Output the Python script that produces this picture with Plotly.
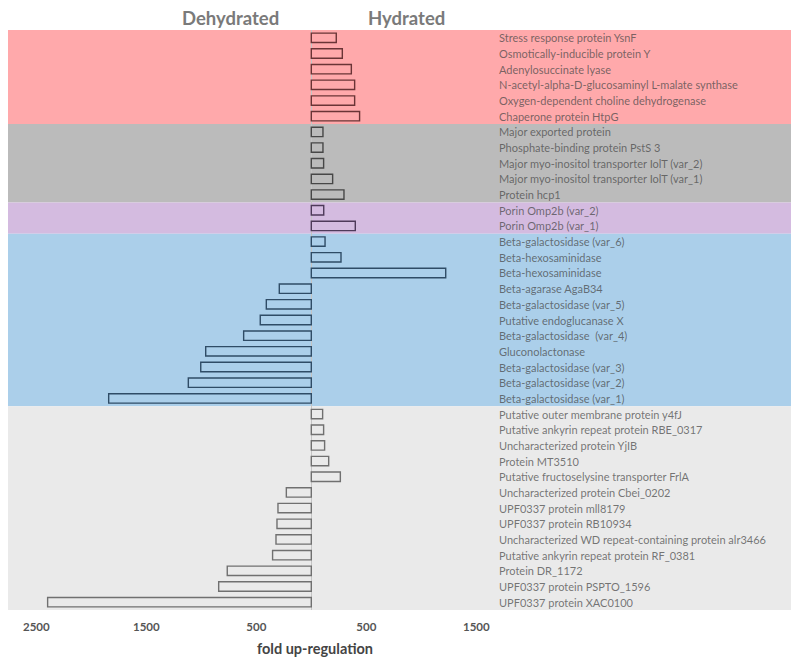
import plotly.graph_objects as go

proteins = [
    "Stress response protein YsnF",
    "Osmotically-inducible protein Y",
    "Adenylosuccinate lyase",
    "N-acetyl-alpha-D-glucosaminyl L-malate synthase",
    "Oxygen-dependent choline dehydrogenase",
    "Chaperone protein HtpG",
    "Major exported protein",
    "Phosphate-binding protein PstS 3",
    "Major myo-inositol transporter IolT (var_2)",
    "Major myo-inositol transporter IolT (var_1)",
    "Protein hcp1",
    "Porin Omp2b (var_2)",
    "Porin Omp2b (var_1)",
    "Beta-galactosidase (var_6)",
    "Beta-hexosaminidase",
    "Beta-hexosaminidase",
    "Beta-agarase AgaB34",
    "Beta-galactosidase (var_5)",
    "Putative endoglucanase X",
    "Beta-galactosidase  (var_4)",
    "Gluconolactonase",
    "Beta-galactosidase (var_3)",
    "Beta-galactosidase (var_2)",
    "Beta-galactosidase (var_1)",
    "Putative outer membrane protein y4fJ",
    "Putative ankyrin repeat protein RBE_0317",
    "Uncharacterized protein YjIB",
    "Protein MT3510",
    "Putative fructoselysine transporter FrlA",
    "Uncharacterized protein Cbei_0202",
    "UPF0337 protein mll8179",
    "UPF0337 protein RB10934",
    "Uncharacterized WD repeat-containing protein alr3466",
    "Putative ankyrin repeat protein RF_0381",
    "Protein DR_1172",
    "UPF0337 protein PSPTO_1596",
    "UPF0337 protein XAC0100",
]

fold_change = [
    227, 282, 364, 394, 394, 439,
    106, 106, 112, 194, 297,
    113, 400,
    125, 270, 1222, -291, -409, -464, -615, -960, -1005, -1118, -1842,
    103, 112, 121, 158, 264, -227, -303, -312, -321, -352, -764, -842, -2397,
]

groups = (["red"] * 6 + ["gray"] * 5 + ["purple"] * 2 + ["blue"] * 11 + ["light"] * 13)

group_order = ["red", "gray", "purple", "blue", "light"]
band_colors = {
    "red": "#FFA9AB",
    "gray": "#BBBBBB",
    "purple": "#D4BBE0",
    "blue": "#ABCFEA",
    "light": "#EAEAEA",
}
line_colors = {
    "red": "#6A3436",
    "gray": "#474747",
    "purple": "#4E3A5A",
    "blue": "#2F4C66",
    "light": "#707070",
}

tick_vals = [-2500, -1500, -500, 500, 1500]
tick_text = ["2500", "1500", "500", "500", "1500"]

FONT = "Lato, 'DejaVu Sans', sans-serif"

# the page shows the figure with an 8px body offset
OFF = 8
L, R, T, B = 0, 17, 22, 62
FIG_W, FIG_H = 800, 664
PLOT_W = FIG_W - L - R
PX_PER_UNIT = 0.11
ZERO_PX = 311.3

def paper_x(px):
    return (px - OFF - L) / PLOT_W

fig = go.Figure()
rows = list(range(len(proteins)))

for g in group_order:
    idx = [i for i in rows if groups[i] == g]
    fig.add_shape(type="rect", xref="paper", yref="y", x0=0, x1=1,
                  y0=min(idx) - 0.5, y1=max(idx) + 0.5,
                  fillcolor=band_colors[g], line_width=0, layer="below")

for g in group_order:
    idx = [i for i in rows if groups[i] == g]
    fig.add_trace(go.Bar(
        x=[fold_change[i] for i in idx],
        y=idx,
        orientation="h",
        width=0.6,
        marker=dict(color="rgba(0,0,0,0)",
                    line=dict(color=line_colors[g], width=1.4)),
        showlegend=False,
        hoverinfo="skip",
    ))

for i in rows:
    fig.add_annotation(x=paper_x(497), xref="paper", y=i, yref="y",
                       text=proteins[i], showarrow=False, xanchor="left",
                       yanchor="middle",
                       font=dict(family=FONT, size=11, color="rgba(70,70,70,0.72)"))

fig.add_annotation(text="<b>Dehydrated</b>", x=paper_x(230), xref="paper", xanchor="center",
                   y=1, yref="paper", yanchor="bottom", yshift=0, borderpad=0,
                   showarrow=False,
                   font=dict(family=FONT, size=18.5, color="#7A7A7A"))
fig.add_annotation(text="<b>Hydrated</b>", x=paper_x(406), xref="paper", xanchor="center",
                   y=1, yref="paper", yanchor="bottom", yshift=0, borderpad=0,
                   showarrow=False,
                   font=dict(family=FONT, size=18.5, color="#7A7A7A"))
fig.add_annotation(text="<b>fold up-regulation</b>", x=paper_x(315), xref="paper",
                   xanchor="center",
                   y=0, yref="paper", yanchor="top", yshift=-28, showarrow=False,
                   font=dict(family=FONT, size=14.5, color="#444444"))

x_left = (OFF + L - ZERO_PX) / PX_PER_UNIT
x_right = (OFF + L + PLOT_W - ZERO_PX) / PX_PER_UNIT

fig.update_layout(
    width=FIG_W, height=FIG_H,
    margin=dict(l=L, r=R, t=T, b=B),
    paper_bgcolor="white",
    plot_bgcolor="white",
    font=dict(family=FONT),
    xaxis=dict(range=[x_left, x_right], tickvals=tick_vals, ticktext=tick_text,
               showgrid=False, zeroline=True, zerolinecolor="#C4C4C4",
               zerolinewidth=1, showline=False,
               ticks="outside", ticklen=6, tickcolor="rgba(0,0,0,0)",
               tickfont=dict(family=FONT, size=11.5, color="#555555", weight="bold")),
    yaxis=dict(range=[len(proteins) - 0.5, -0.5], showgrid=False,
               zeroline=False, showticklabels=False, ticks=""),
)

fig.write_html("out.html")
